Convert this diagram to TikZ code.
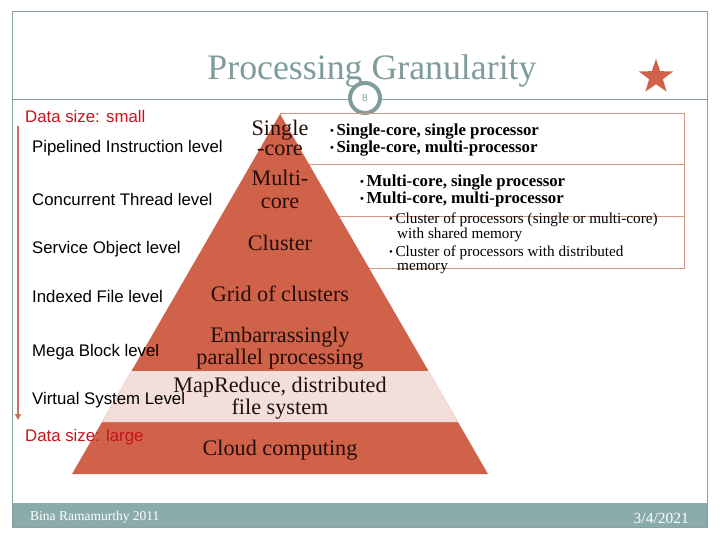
\documentclass[tikz,border=0pt]{standalone}
\usepackage{fontspec}
\setmainfont{Liberation Serif}
\setsansfont{Liberation Sans}
\usetikzlibrary{shapes.geometric,arrows.meta}
\definecolor{terra}{RGB}{208,98,74}
\definecolor{pinkband}{RGB}{243,222,219}
\definecolor{boxline}{RGB}{210,150,135}
\definecolor{footc}{RGB}{138,171,171}
\definecolor{titlec}{RGB}{127,156,156}
\definecolor{framec}{RGB}{140,160,160}
\definecolor{datared}{RGB}{200,20,30}
\definecolor{pyrtext}{RGB}{35,15,10}
\definecolor{arrowc}{RGB}{200,112,92}
\begin{document}
\begin{tikzpicture}[x=1pt,y=-1pt,
  lefttxt/.style={anchor=base west,inner sep=0,font=\sffamily\fontsize{16.8}{19}\selectfont},
  redtxt/.style={lefttxt,text=datared},
  pyr/.style={anchor=base,inner sep=0,text=pyrtext,font=\fontsize{22.2}{24}\selectfont},
  boldtxt/.style={anchor=base west,inner sep=0,font=\bfseries\fontsize{16.8}{18}\selectfont},
  thintxt/.style={anchor=base west,inner sep=0,font=\fontsize{15.2}{17}\selectfont},
  foottxt/.style={inner sep=0,text=white,font=\fontsize{13.5}{15}\selectfont}
]
\newcommand{\bul}{\raisebox{1pt}{\fontsize{11}{11}\selectfont •}\hspace{2.5pt}}
\useasboundingbox (0,0) rectangle (720,540);
\fill[white] (0,0) rectangle (720,540);
% frame and footer
\fill[footc] (12,503) rectangle (707,527);
\draw[framec, line width=1pt] (12,12) rectangle (707,527);
\draw[framec, line width=1pt] (12,100) -- (707,100);
% title
\node[anchor=base, inner sep=0, text=titlec, font=\fontsize{35.8}{40}\selectfont] (title) at (372,80) {Processing Granularity};
\node[circle, draw=titlec, line width=4pt, fill=white, minimum size=30pt, inner sep=0,
      text=titlec, font=\sffamily\fontsize{10}{10}\selectfont] (pagenum) at (365,98) {8};
\node[star, star points=5, star point ratio=2.5, fill=terra, minimum size=36pt, inner sep=0] (star) at (656,77) {};
% right box
\draw[boxline, line width=1pt] (280,114) rectangle (684,268);
\draw[boxline, line width=1pt] (280,165) -- (684,165);
\draw[boxline, line width=1pt] (280,217) -- (684,217);
% pyramid
\fill[terra] (280,114) -- (488,474) -- (72,474) -- cycle;
\fill[pinkband] (131.5,371) -- (428.5,371) -- (458,422) -- (102,422) -- cycle;
% pyramid labels
\node[pyr] (p1a) at (280,136) {Single};
\node[pyr] (p1b) at (280,156) {-core};
\node[pyr] (p2a) at (280,186) {Multi-};
\node[pyr] (p2b) at (280,208) {core};
\node[pyr] (p3) at (280,250) {Cluster};
\node[pyr] (p4) at (280,301) {Grid of clusters};
\node[pyr] (p5a) at (280,342) {Embarrassingly};
\node[pyr] (p5b) at (280,364) {parallel processing};
\node[pyr] (p6a) at (280,392) {MapReduce, distributed};
\node[pyr] (p6b) at (280,414) {file system};
\node[pyr] (p7) at (280,455) {Cloud computing};
% box texts
\node[boldtxt] (b1) at (330,136) {\bul Single-core, single processor};
\node[boldtxt] (b2) at (330,153) {\bul Single-core, multi-processor};
\node[boldtxt] (b3) at (360,186.5) {\bul Multi-core, single processor};
\node[boldtxt] (b4) at (360,204) {\bul Multi-core, multi-processor};
\node[thintxt] (b5) at (389,223) {\bul Cluster of processors (single or multi-core)};
\node[thintxt] (b6) at (397,238) {with shared memory};
\node[thintxt] (b7) at (389,256) {\bul Cluster of processors with distributed};
\node[thintxt] (b8) at (397,270) {memory};
% left labels
\node[redtxt] (small) at (25,123) {Data size: small};
\node[lefttxt] (l1) at (32,152.5) {Pipelined Instruction level};
\node[lefttxt] (l2) at (32,206) {Concurrent Thread level};
\node[lefttxt] (l3) at (32,254) {Service Object level};
\node[lefttxt] (l4) at (32,302) {Indexed File level};
\node[lefttxt] (l5) at (32,356.5) {Mega Block level};
\node[lefttxt] (l6) at (32,404) {Virtual System Level};
\node[redtxt] (large) at (25,441) {Data size: large};
% arrow
\coordinate (arrS) at (18,126);
\coordinate (arrE) at (18,420);
\draw[arrowc, line width=2.5pt, -{Triangle[length=6pt,width=6pt]}] (arrS) -- (arrE);
% footer texts
\node[foottxt, anchor=base west] (author) at (30,520) {Bina Ramamurthy 2011};
\node[foottxt, anchor=base east, font=\fontsize{15.5}{17}\selectfont] (date) at (689,523) {3/4/2021};
\end{tikzpicture}
\end{document}
